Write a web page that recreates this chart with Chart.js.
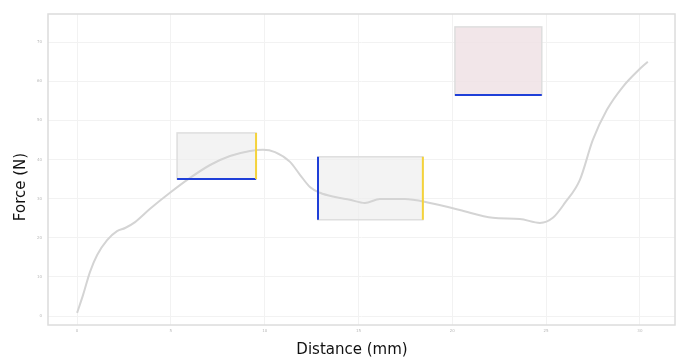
<!DOCTYPE html>
<html>
<head>
<meta charset="utf-8">
<script src="https://cdn.jsdelivr.net/npm/chart.js@4/dist/chart.umd.min.js"></script>
<style>
  html, body { margin: 0; padding: 0; background: #fff; }
  #wrap { width: 680px; height: 360px; }
</style>
</head>
<body>
<div id="wrap"><canvas id="myChart" width="680" height="360"></canvas></div>
<script>
// distance (mm) and force (N)
const distance = [0, 0.32, 0.69, 1.07, 1.6, 2.13, 2.56, 3.09, 3.89, 4.95, 6.02, 7.09, 8.15, 9.22, 9.91,
  10.55, 11.35, 11.88, 12.41, 12.95, 13.75, 14.54, 15.34, 16.14, 17.47, 18.81, 20.4, 22.16, 23.6,
  24.67, 25.36, 26.0, 26.8, 27.49, 28.24, 29.09, 30.0, 30.42];
const force = [0.8, 5.4, 11.3, 15.6, 19.4, 21.7, 22.5, 24.0, 27.4, 31.5, 35.3, 38.6, 40.9, 42.2, 42.5,
  41.9, 39.4, 36.1, 33.0, 31.5, 30.4, 29.7, 28.9, 29.9, 29.9, 28.9, 27.1, 25.1, 24.8,
  23.8, 25.1, 28.9, 34.8, 45.0, 52.7, 58.6, 63.2, 65.0];

const xTicks = [0, 5, 10, 15, 20, 25, 30];
const yTicks = [0, 10, 20, 30, 40, 50, 60, 70];

// highlighted regions: [x0, x1, yTop, yBottom]
const boxRanges = [[5.33, 9.54, 46.8, 35.0], [12.84, 18.43, 40.7, 24.6], [20.14, 24.77, 73.9, 56.5]];
const boxFills = ["rgba(238,238,238,0.7)", "rgba(238,238,238,0.7)", "rgba(240,226,229,0.85)"];
// which edges get a coloured marker
const boxEdges = [["bottom", "right"], ["left", "right"], ["bottom"]];

const edgeColors = { bottom: "#1f3fd8", left: "#1f3fd8", right: "#f5d33a" };

const boxPlugin = {
  id: "boxes",
  beforeDatasetsDraw(chart) {
    const { ctx, scales: { x, y } } = chart;
    boxRanges.forEach((b, i) => {
      const l = x.getPixelForValue(b[0]), r = x.getPixelForValue(b[1]);
      const t = y.getPixelForValue(b[2]), bt = y.getPixelForValue(b[3]);
      ctx.save();
      ctx.fillStyle = boxFills[i];
      ctx.fillRect(l, t, r - l, bt - t);
      ctx.strokeStyle = "#dedede";
      ctx.lineWidth = 1.5;
      ctx.strokeRect(l, t, r - l, bt - t);
      ctx.restore();
    });
  },
  afterDatasetsDraw(chart) {
    const { ctx, scales: { x, y } } = chart;
    boxRanges.forEach((b, i) => {
      const l = x.getPixelForValue(b[0]), r = x.getPixelForValue(b[1]);
      const t = y.getPixelForValue(b[2]), bt = y.getPixelForValue(b[3]);
      ctx.save();
      ctx.lineWidth = 2;
      boxEdges[i].forEach((e) => {
        ctx.strokeStyle = edgeColors[e];
        ctx.beginPath();
        if (e === "bottom") { ctx.moveTo(l, bt); ctx.lineTo(r, bt); }
        if (e === "left") { ctx.moveTo(l, t); ctx.lineTo(l, bt); }
        if (e === "right") { ctx.moveTo(r, t); ctx.lineTo(r, bt); }
        ctx.stroke();
      });
      ctx.restore();
    });
  }
};

// frame round the plot + the two axis titles
const frame = {
  id: "frame",
  afterDraw(chart) {
    const { ctx, chartArea: a } = chart;
    ctx.save();
    ctx.strokeStyle = "#dcdcdc";
    ctx.lineWidth = 1.5;
    ctx.strokeRect(a.left, a.top, a.right - a.left, a.bottom - a.top);

    ctx.fillStyle = "#111";
    ctx.font = "15px 'DejaVu Sans'";
    ctx.textAlign = "center";
    ctx.textBaseline = "middle";
    ctx.fillText("Distance (mm)", 352, 350);
    ctx.translate(21, 187);
    ctx.rotate(-Math.PI / 2);
    ctx.fillText("Force (N)", 0, 0);
    ctx.restore();
  }
};

const tickFont = { family: "DejaVu Sans", size: 4 };

var ctx = document.getElementById("myChart").getContext("2d");
var chart = new Chart(ctx, {
  type: "line",
  data: {
    datasets: [{
      data: distance.map((d, i) => ({ x: d, y: force[i] })),
      borderColor: "#d4d4d4",
      borderWidth: 2,
      pointRadius: 0,
      cubicInterpolationMode: "monotone",
      fill: false
    }]
  },
  options: {
    responsive: false,
    animation: false,
    layout: { padding: { top: 14, right: 5, left: 0, bottom: 0 } },
    plugins: { legend: { display: false }, tooltip: { enabled: false } },
    scales: {
      x: {
        type: "linear",
        min: -1.55,
        max: 31.87,
        afterBuildTicks: (s) => { s.ticks = xTicks.map((v) => ({ value: v })); },
        afterFit: (s) => { s.height = 35; },
        grid: { color: "#f2f2f2", drawTicks: false },
        border: { display: false },
        ticks: { color: "#b8b8b8", font: tickFont, padding: 4 },
        title: { display: false }
      },
      y: {
        type: "linear",
        min: -2.3,
        max: 77.2,
        afterBuildTicks: (s) => { s.ticks = yTicks.map((v) => ({ value: v })); },
        afterFit: (s) => { s.width = 48; },
        grid: { color: "#f2f2f2", drawTicks: false },
        border: { display: false },
        ticks: { color: "#b8b8b8", font: tickFont, padding: 6 },
        title: { display: false }
      }
    }
  },
  plugins: [boxPlugin, frame]
});
</script>
</body>
</html>
